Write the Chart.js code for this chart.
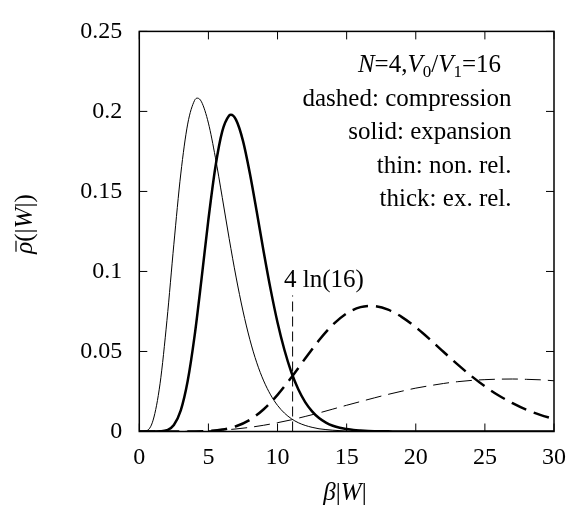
<!DOCTYPE html>
<html>
<head>
<meta charset="utf-8">
<script src="https://cdn.jsdelivr.net/npm/chart.js@4.4.1/dist/chart.umd.min.js"></script>
<style>
html,body{margin:0;padding:0;background:#fff;}
#c{display:block;}
</style>
</head>
<body>
<canvas id="c" width="584" height="513"></canvas>
<script>
// ---- data ----
const xTickLabels = ['0','5','10','15','20','25','30'];
const yTickLabels = ['0','0.05','0.1','0.15','0.2','0.25'];

// thin solid: expansion, non-relativistic
const thinSolidX = [0,0.5,1,1.5,2,2.5,3,3.5,4,4.2,4.5,5,5.5,6,6.5,7,7.5,8,8.5,9,9.5,10,10.5,11,11.5,12,12.5,13,13.5,14,15,16,17,18,20,25,30];
const thinSolidY = [0,0.0004,0.0071,0.0298,0.0694,0.1170,0.1609,0.1921,0.2069,0.2083,0.2060,0.1927,0.1714,0.1463,0.1206,0.0965,0.0753,0.0574,0.0429,0.0316,0.0229,0.0163,0.0115,0.0080,0.0055,0.0038,0.0026,0.0017,0.0012,0.0008,0.0003,0.00014,0.00006,0.00002,0,0,0];

// thick solid: expansion, extreme relativistic
const thickSolidX = [0,1,1.5,2,2.5,3,3.5,4,4.5,5,5.5,6,6.5,6.63,7,7.5,8,8.5,9,9.5,10,10.5,11,11.5,12,12.5,13,13.5,14,14.5,15,15.5,16,17,18,19,20,30];
const thickSolidY = [0,0,0.0001,0.0008,0.0041,0.0132,0.0315,0.0597,0.0952,0.1325,0.1650,0.1875,0.1974,0.1979,0.1947,0.1816,0.1612,0.1371,0.1122,0.0888,0.0681,0.0509,0.0370,0.0264,0.0184,0.0126,0.0084,0.0056,0.0036,0.0023,0.0015,0.0009,0.0006,0.0002,0.0001,0,0,0];

// thick dashed: compression, extreme relativistic
const thickDashX = [0,2,3,4,5,6,7,8,9,10,11,12,13,14,15,16,16.72,17,18,19,20,21,22,23,24,25,26,27,28,29,30];
const thickDashY = [0,0,0.00001,0.00005,0.0003,0.0012,0.0033,0.0073,0.0139,0.0229,0.0338,0.0456,0.0570,0.0667,0.0738,0.0777,0.0785,0.0784,0.0761,0.0715,0.0651,0.0577,0.0498,0.0421,0.0348,0.0282,0.0225,0.0177,0.0136,0.0104,0.0078];

// thin dashed: compression, non-relativistic
const thinDashX = [0,1,2,3,4,5,6,7,8,9,10,11,12,13,14,15,16,17,18,19,20,21,22,23,24,25,26,27,28,29,30];
const thinDashY = [0,0,0.00001,0.00005,0.00017,0.00044,0.0009,0.0016,0.0026,0.0039,0.0055,0.0073,0.0094,0.0116,0.0140,0.0164,0.0187,0.0210,0.0232,0.0252,0.0271,0.0286,0.0300,0.0311,0.0319,0.0324,0.0327,0.0328,0.0326,0.0323,0.0317];

// vertical marker at 4 ln(16)
const markerX = [11.09, 11.09];
const markerY = [0, 0.085];
const markerLabel = '4 ln(16)';

const infoLines = ['dashed: compression','solid: expansion','thin: non. rel.','thick: ex. rel.'];

// ---- build ----
function pts(xs, ys){ return xs.map((x,i)=>({x:x, y:ys[i]})); }

const SERIF = '"Liberation Serif", "Times New Roman", serif';

const decor = {
  id: 'decor',
  afterDatasetsDraw(chart){
    const ctx = chart.ctx;
    const a = chart.chartArea;
    const xs = chart.scales.x, ys = chart.scales.y;
    ctx.save();
    ctx.strokeStyle = '#000';
    ctx.fillStyle = '#000';
    // frame
    ctx.lineWidth = 1.5;
    ctx.strokeRect(a.left, a.top, a.right - a.left, a.bottom - a.top);
    // inward ticks
    const tl = 8;
    ctx.lineWidth = 1;
    ctx.beginPath();
    xs.ticks.forEach(t => {
      const px = xs.getPixelForValue(t.value);
      ctx.moveTo(px, a.bottom); ctx.lineTo(px, a.bottom - tl);
      ctx.moveTo(px, a.top); ctx.lineTo(px, a.top + tl);
    });
    ys.ticks.forEach(t => {
      const py = ys.getPixelForValue(t.value);
      ctx.moveTo(a.left, py); ctx.lineTo(a.left + tl, py);
      ctx.moveTo(a.right, py); ctx.lineTo(a.right - tl, py);
    });
    ctx.stroke();

    // marker label
    ctx.font = '25px ' + SERIF;
    ctx.textAlign = 'left';
    ctx.textBaseline = 'alphabetic';
    ctx.fillText(markerLabel, xs.getPixelForValue(markerX[0]) - 8.5, ys.getPixelForValue(markerY[1]) - 8);

    // info block
    const rightEdge = 511.5;
    const base0 = 72, step = 33.5;
    ctx.textAlign = 'left';
    // line 1: N=4,V0/V1=16
    const parts = [
      ['N','italic',0,25], ['=4,','normal',0,25], ['V','italic',0,25], ['0','normal',5,17],
      ['/','normal',0,25], ['V','italic',0,25], ['1','normal',5,17], ['=16','normal',0,25]
    ];
    let total = 0;
    parts.forEach(p => { ctx.font = p[1] + ' ' + p[3] + 'px ' + SERIF; total += ctx.measureText(p[0]).width; });
    let cx = 501 - total;
    parts.forEach(p => {
      ctx.font = p[1] + ' ' + p[3] + 'px ' + SERIF;
      ctx.fillText(p[0], cx, base0 + p[2]);
      cx += ctx.measureText(p[0]).width;
    });
    ctx.font = '25px ' + SERIF;
    ctx.textAlign = 'right';
    infoLines.forEach((s, i) => ctx.fillText(s, rightEdge, base0 + step * (i + 1)));

    // x title: β|W|
    ctx.textAlign = 'left';
    const xt = [['β','italic'],['|','normal'],['W','italic'],['|','normal']];
    let w = 0;
    xt.forEach(p => { ctx.font = p[1] + ' 25px ' + SERIF; w += ctx.measureText(p[0]).width; });
    let px = 345 - w / 2;
    xt.forEach(p => { ctx.font = p[1] + ' 25px ' + SERIF; ctx.fillText(p[0], px, 500); px += ctx.measureText(p[0]).width; });

    // y title: rho-bar(|W|), rotated
    ctx.save();
    ctx.translate(32, 224);
    ctx.rotate(-Math.PI / 2);
    const yt = [['ρ','italic'],['(|','normal'],['W','italic'],['|)','normal']];
    w = 0;
    yt.forEach(p => { ctx.font = p[1] + ' 25px ' + SERIF; w += ctx.measureText(p[0]).width; });
    px = -w / 2;
    let rhoStart = px, rhoW = 0;
    yt.forEach((p, i) => {
      ctx.font = p[1] + ' 25px ' + SERIF;
      ctx.fillText(p[0], px, 0);
      const mw = ctx.measureText(p[0]).width;
      if (i === 0) { rhoW = mw; }
      px += mw;
    });
    ctx.lineWidth = 1.2;
    ctx.beginPath();
    ctx.moveTo(rhoStart + 2, -16);
    ctx.lineTo(rhoStart + rhoW + 1, -16);
    ctx.stroke();
    ctx.restore();

    ctx.restore();
  }
};

new Chart(document.getElementById('c'), {
  type: 'scatter',
  data: {
    datasets: [
      { label: 'thin solid', data: pts(thinSolidX, thinSolidY), showLine: true, borderColor: '#000', borderWidth: 1, pointRadius: 0, cubicInterpolationMode: 'monotone' },
      { label: 'thick solid', data: pts(thickSolidX, thickSolidY), showLine: true, borderColor: '#000', borderWidth: 2.5, pointRadius: 0, cubicInterpolationMode: 'monotone' },
      { label: 'thick dashed', data: pts(thickDashX, thickDashY), showLine: true, borderColor: '#000', borderWidth: 2.5, borderDash: [16, 8], pointRadius: 0, cubicInterpolationMode: 'monotone' },
      { label: 'thin dashed', data: pts(thinDashX, thinDashY), showLine: true, borderColor: '#000', borderWidth: 1, borderDash: [16, 7], pointRadius: 0, cubicInterpolationMode: 'monotone' },
      { label: 'marker', data: pts(markerX, markerY), showLine: true, borderColor: '#000', borderWidth: 1, borderDash: [10, 5], pointRadius: 0 }
    ]
  },
  options: {
    responsive: false,
    devicePixelRatio: 1,
    animation: false,
    events: [],
    layout: { padding: { left: 0, right: 30, top: 15.5, bottom: 0 } },
    plugins: { legend: { display: false }, tooltip: { enabled: false }, title: { display: false } },
    scales: {
      x: {
        type: 'linear', min: 0, max: 30,
        grid: { display: false, drawTicks: false },
        border: { display: false },
        ticks: { stepSize: 5, color: '#000', font: { family: SERIF, size: 24 }, padding: 12, maxRotation: 0,
                 callback: (v) => xTickLabels[Math.round(v / 5)] },
        afterFit: s => { s.height = 81.5; }
      },
      y: {
        type: 'linear', min: 0, max: 0.25,
        grid: { display: false, drawTicks: false },
        border: { display: false },
        ticks: { stepSize: 0.05, color: '#000', font: { family: SERIF, size: 24 }, padding: 17,
                 callback: (v) => yTickLabels[Math.round(v / 0.05)] },
        afterFit: s => { s.width = 139.3; }
      }
    }
  },
  plugins: [decor]
});
</script>
</body>
</html>
